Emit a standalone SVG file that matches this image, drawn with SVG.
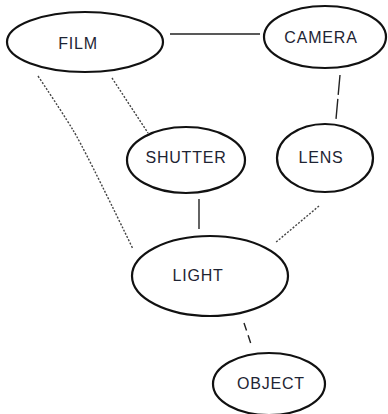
<svg xmlns="http://www.w3.org/2000/svg" width="388" height="414" viewBox="0 0 388 414">
<style>
.node ellipse{fill:#fff;stroke:#111;stroke-width:2.2}
.node text{font-family:"Liberation Sans",Arial,sans-serif;font-size:16px;fill:#1e2433;text-anchor:middle;dominant-baseline:central;letter-spacing:0.8px}
.solid{stroke:#222;stroke-width:1.4;fill:none}
.dot{stroke:#444;stroke-width:1.4;fill:none;stroke-dasharray:2 1.6}
.dash{stroke:#222;stroke-width:1.4;fill:none;stroke-dasharray:20 4}
.dash2{stroke:#222;stroke-width:1.4;fill:none;stroke-dasharray:8 5}
</style>
<rect width="388" height="414" fill="#fff"/>
<g id="connectors">
<line class="solid" x1="170" y1="34" x2="260" y2="34"/>
<line class="dash" x1="340" y1="75" x2="336" y2="119"/>
<line class="dot" x1="112" y1="78" x2="148" y2="133"/>
<path class="dot" d="M38,76 Q62,112 73,130 T133,249"/>
<line class="solid" x1="199" y1="199" x2="199" y2="229"/>
<line class="dot" x1="319" y1="206" x2="275" y2="243"/>
<line class="dash2" x1="244" y1="323" x2="252" y2="347"/>
</g>
<g id="film" class="node"><ellipse cx="85" cy="42" rx="78" ry="30"/><text x="78" y="43">FILM</text></g>
<g id="camera" class="node"><ellipse cx="325" cy="37" rx="61" ry="31"/><text x="321" y="37">CAMERA</text></g>
<g id="shutter" class="node"><ellipse cx="186" cy="160" rx="59" ry="33"/><text x="186" y="157">SHUTTER</text></g>
<g id="lens" class="node"><ellipse cx="325" cy="158" rx="48" ry="34"/><text x="321" y="157">LENS</text></g>
<g id="light" class="node"><ellipse cx="210" cy="276" rx="78" ry="40"/><text x="198" y="275">LIGHT</text></g>
<g id="object" class="node"><ellipse cx="269" cy="384" rx="56" ry="31"/><text x="271" y="383">OBJECT</text></g>
</svg>
